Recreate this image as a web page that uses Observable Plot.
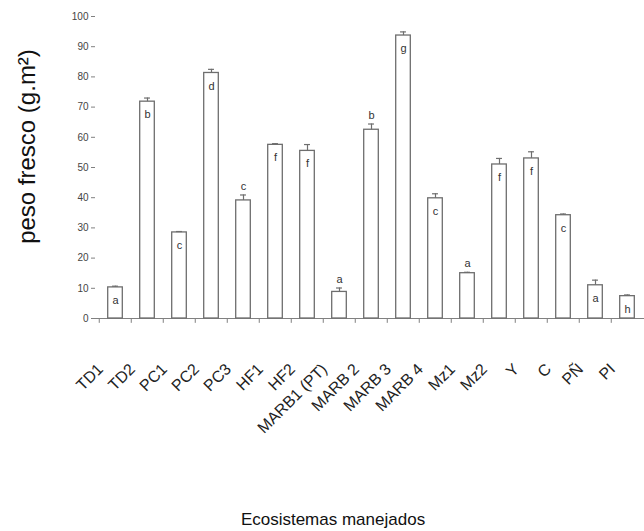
<!DOCTYPE html>
<html><head><meta charset="utf-8">
<script src="https://cdn.jsdelivr.net/npm/d3@7"></script>
<script src="https://cdn.jsdelivr.net/npm/@observablehq/plot@0.6"></script>
<style>body{margin:0;background:#fff;font-family:"Liberation Sans",Arial,sans-serif;}</style>
</head><body><div id="chart"></div>
<script>
const categories = ["TD1","TD2","PC1","PC2","PC3","HF1","HF2","MARB1 (PT)","MARB 2","MARB 3","MARB 4","Mz1","Mz2","Y","C","PÑ","PI"];
const values =     [10.3, 71.8, 28.5, 81.3, 39.1, 57.5, 55.5, 8.8, 62.5, 93.7, 39.8, 15.0, 51.0, 53.0, 34.2, 11.0, 7.4];
const errors =     [0.4,  1.2,  0.3,  1.2,  1.8,  0.4,  2.1,  1.3, 1.9,  1.2,  1.5,  0.3,  2.0,  2.2,  0.4,  1.7,  0.4];
const letters =    ["a","b","c","d","c","f","f","a","b","g","c","a","f","f","c","a","h"];
const letterAbove = [false,false,false,false,true,false,false,true,true,false,false,true,false,false,false,false,false];
const yTicks = [0,10,20,30,40,50,60,70,80,90,100];

const data = categories.map((c,i)=>({cat:c, v:values[i], e:errors[i], l:letters[i], above:letterAbove[i]}));
const W = 644, H = 531;
const step = (647-95)/categories.length;
const grey = "#808080", ink = "#333";

const chart = Plot.plot({
  width: W, height: H,
  marginLeft: 95, marginRight: 0, marginTop: 16, marginBottom: 213,
  style: {fontFamily: '"Liberation Sans", Arial, sans-serif', color: ink, background: "#fff", overflow: "visible"},
  x: {domain: categories, range: [95, 647], padding: 0, axis: null},
  y: {domain: [0, 100], axis: null},
  marks: [
    Plot.axisY({ticks: yTicks, tickSize: 4, tickPadding: 3, fontSize: 10, stroke: grey, fill: "#444", label: null}),
    Plot.ruleY([0], {stroke: grey}),
    Plot.ruleX([0], {x: () => 95, stroke: grey}),
    Plot.ruleX(categories, {x: d => d, dx: -step/2, y1: 0, y2: -1.6, stroke: grey}),
    Plot.barY(data, {x: "cat", y: "v", fill: "#fff", stroke: "#6e6e6e", strokeWidth: 1.3, insetLeft: 8.7, insetRight: 8.7}),
    Plot.ruleX(data, {x: "cat", y1: "v", y2: d => d.v + d.e, stroke: "#6e6e6e", strokeWidth: 1.2}),
    Plot.tickY(data, {x: "cat", y: d => d.v + d.e, stroke: "#6e6e6e", strokeWidth: 1.2, insetLeft: step/2 - 3.2, insetRight: step/2 - 3.2}),
    Plot.text(data.filter(d => !d.above), {x: "cat", y: "v", text: "l", dy: 13, fontSize: 11, fill: ink}),
    Plot.text(data.filter(d => d.above), {x: "cat", y: d => d.v + d.e, text: "l", dy: -9, fontSize: 11, fill: ink}),
    Plot.text(data, {x: "cat", y: () => 0, text: "cat", rotate: -45, textAnchor: "end", dx: -15, dy: 48, fontSize: 16, fill: "#222"}),
    Plot.text(["peso fresco (g.m²)"], {frameAnchor: "left", text: d => d, rotate: -90, textAnchor: "middle", lineAnchor: "middle", dx: -68, dy: -21, fontSize: 24, fill: "#111"}),
    Plot.text(["Ecosistemas manejados"], {frameAnchor: "bottom", text: d => d, textAnchor: "middle", lineAnchor: "middle", dx: -37, dy: 201, fontSize: 17, fill: "#111"})
  ]
});
document.getElementById("chart").appendChild(chart);
</script>
</body></html>
